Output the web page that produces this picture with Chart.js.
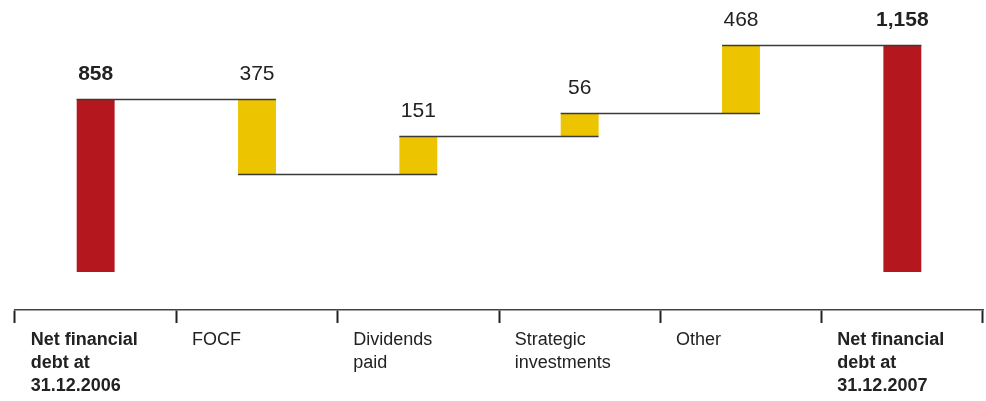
<!DOCTYPE html>
<html>
<head>
<meta charset="utf-8">
<script src="https://cdn.jsdelivr.net/npm/chart.js@4/dist/chart.umd.min.js"></script>
<style>
  html, body { margin: 0; padding: 0; background: #fff; }
  #wrap { width: 986px; height: 401px; }
</style>
</head>
<body>
<div id="wrap"><canvas id="waterfall"></canvas></div>
<script>
// Categories along the x axis (multi-line labels)
const categories = [
  ["Net financial", "debt at", "31.12.2006"],
  ["FOCF"],
  ["Dividends", "paid"],
  ["Strategic", "investments"],
  ["Other"],
  ["Net financial", "debt at", "31.12.2007"]
];
// Printed values above each bar
const valueLabels = ["858", "375", "151", "56", "468", "1,158"];
// Running level after each step, as drawn (schematic, not to scale)
const stepLevels = [173, 98, 136, 159, 227];
// Which columns are totals (red, drawn from the base)
const isTotal = [true, false, false, false, false, true];

const RED = "#b5171f";
const YELLOW = "#ecc400";
const FONT = "'Liberation Sans', Arial, sans-serif";

// build floating bar ranges from the levels
const ranges = categories.map((c, i) => {
  if (i === 0) return [0, stepLevels[0]];
  if (i === categories.length - 1) return [0, stepLevels[stepLevels.length - 1]];
  return [stepLevels[i - 1], stepLevels[i]];
});

// connector lines between neighbouring bars
const connectorPlugin = {
  id: "connectors",
  afterDatasetsDraw(chart) {
    const ctx = chart.ctx;
    const bars = chart.getDatasetMeta(0).data;
    const y = chart.scales.y;
    ctx.save();
    ctx.strokeStyle = "#3a3a3a";
    ctx.lineWidth = 1.5;
    for (let i = 0; i < stepLevels.length; i++) {
      const a = bars[i], b = bars[i + 1];
      const py = Math.round(y.getPixelForValue(stepLevels[i])) + 0.5;
      ctx.beginPath();
      ctx.moveTo(a.x - a.width / 2, py);
      ctx.lineTo(b.x + b.width / 2, py);
      ctx.stroke();
    }
    ctx.restore();
  }
};

// value labels above bars
const valuePlugin = {
  id: "values",
  afterDatasetsDraw(chart) {
    const ctx = chart.ctx;
    const bars = chart.getDatasetMeta(0).data;
    ctx.save();
    ctx.fillStyle = "#222";
    ctx.textAlign = "center";
    ctx.textBaseline = "middle";
    bars.forEach((bar, i) => {
      const top = Math.min(bar.y, bar.base);
      ctx.font = (isTotal[i] ? "bold " : "") + "21px " + FONT;
      ctx.fillText(valueLabels[i], bar.x, top - 25);
    });
    ctx.restore();
  }
};

new Chart(document.getElementById("waterfall"), {
  type: "bar",
  data: {
    labels: categories,
    datasets: [{
      data: ranges,
      backgroundColor: isTotal.map(t => t ? RED : YELLOW),
      borderWidth: 0,
      borderSkipped: false,
      categoryPercentage: 1,
      barPercentage: 0.235
    }]
  },
  options: {
    responsive: true,
    maintainAspectRatio: false,
    animation: false,
    layout: { padding: { left: 15, right: 3, top: 0, bottom: 0 } },
    plugins: {
      legend: { display: false },
      tooltip: { enabled: false }
    },
    scales: {
      x: {
        offset: true,
        border: { display: true, color: "#444", width: 1.5 },
        grid: {
          offset: true,
          drawOnChartArea: false,
          drawTicks: true,
          tickLength: 13,
          tickColor: "#222",
          tickWidth: 2
        },
        ticks: {
          align: "start",
          labelOffset: -65,
          padding: 6,
          maxRotation: 0,
          autoSkip: false,
          color: "#222",
          font: (ctx) => ({
            family: FONT,
            size: 18,
            lineHeight: 23 / 18,
            weight: isTotal[ctx.index] ? "bold" : "normal"
          })
        },
        afterFit(scale) {
          scale.height = 91;
          scale.paddingLeft = 0;
          scale.paddingRight = 0;
        }
      },
      y: {
        display: false,
        min: -38,
        max: 272
      }
    }
  },
  plugins: [connectorPlugin, valuePlugin]
});
</script>
</body>
</html>
